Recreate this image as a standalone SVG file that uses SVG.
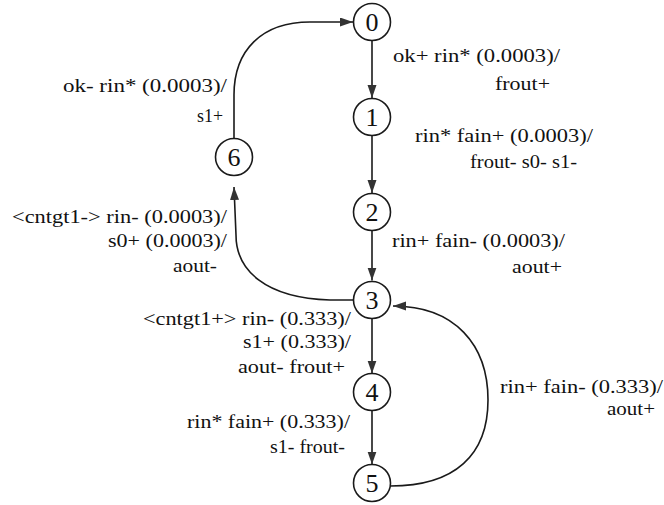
<svg xmlns="http://www.w3.org/2000/svg" width="664" height="505" viewBox="0 0 664 505">
<defs>
<style>
.node circle{fill:#fff;stroke:#1a1a1a;stroke-width:1.6}
.node text{font-family:"Liberation Serif","Times New Roman",serif;font-size:26px;fill:#111;text-anchor:middle}
.edge{fill:none;stroke:#1a1a1a;stroke-width:1.6}
.lbl{font-family:"Liberation Serif","Times New Roman",serif;font-size:18px;fill:#111}
</style>
<marker id="ah" markerUnits="userSpaceOnUse" markerWidth="14" markerHeight="10" refX="13" refY="4.5" orient="auto">
<path d="M0,0 L13,4.5 L0,9 z" fill="#333"/>
</marker>
</defs>
<rect width="664" height="505" fill="#fff"/>
<g id="connectors">
<path class="edge" d="M372 40.5 L372 98" marker-end="url(#ah)"/>
<path class="edge" d="M372 135.5 L372 193" marker-end="url(#ah)"/>
<path class="edge" d="M372 230.5 L372 280.5" marker-end="url(#ah)"/>
<path class="edge" d="M372 318.5 L372 373.5" marker-end="url(#ah)"/>
<path class="edge" d="M372 410.5 L372 464.5" marker-end="url(#ah)"/>
<path class="edge" d="M353.5 300 L330 300 C265 298 236 270 236 235 L234 187" marker-end="url(#ah)"/>
<path class="edge" d="M234 139 L234 95 C234 50 262 22 310 22 L353 22" marker-end="url(#ah)"/>
<path class="edge" d="M390.5 486 C455 486 488 455 488 400 C488 345 455 306 393 306" marker-end="url(#ah)"/>
</g>
<g id="labels">
<text class="lbl" x="393" y="62" textLength="167" lengthAdjust="spacingAndGlyphs">ok+ rin* (0.0003)/</text>
<text class="lbl" x="495" y="90" textLength="55" lengthAdjust="spacingAndGlyphs">frout+</text>
<text class="lbl" x="415" y="142" textLength="178" lengthAdjust="spacingAndGlyphs">rin* fain+ (0.0003)/</text>
<text class="lbl" x="470" y="168" textLength="107" lengthAdjust="spacingAndGlyphs">frout- s0- s1-</text>
<text class="lbl" x="392" y="247" textLength="173" lengthAdjust="spacingAndGlyphs">rin+ fain- (0.0003)/</text>
<text class="lbl" x="512" y="273" textLength="50" lengthAdjust="spacingAndGlyphs">aout+</text>
<text class="lbl" x="63" y="92" textLength="164" lengthAdjust="spacingAndGlyphs">ok- rin* (0.0003)/</text>
<text class="lbl" x="197" y="122" textLength="26" lengthAdjust="spacingAndGlyphs">s1+</text>
<text class="lbl" x="12" y="223" textLength="215" lengthAdjust="spacingAndGlyphs">&lt;cntgt1-&gt; rin- (0.0003)/</text>
<text class="lbl" x="108" y="247" textLength="119" lengthAdjust="spacingAndGlyphs">s0+ (0.0003)/</text>
<text class="lbl" x="173" y="272" textLength="44" lengthAdjust="spacingAndGlyphs">aout-</text>
<text class="lbl" x="143" y="325" textLength="208" lengthAdjust="spacingAndGlyphs">&lt;cntgt1+&gt; rin- (0.333)/</text>
<text class="lbl" x="243" y="348" textLength="108" lengthAdjust="spacingAndGlyphs">s1+ (0.333)/</text>
<text class="lbl" x="238" y="373" textLength="107" lengthAdjust="spacingAndGlyphs">aout- frout+</text>
<text class="lbl" x="187" y="428" textLength="163" lengthAdjust="spacingAndGlyphs">rin* fain+ (0.333)/</text>
<text class="lbl" x="270" y="453" textLength="75" lengthAdjust="spacingAndGlyphs">s1- frout-</text>
<text class="lbl" x="500" y="393" textLength="163" lengthAdjust="spacingAndGlyphs">rin+ fain- (0.333)/</text>
<text class="lbl" x="607" y="415" textLength="48" lengthAdjust="spacingAndGlyphs">aout+</text>
</g>
<g id="node0" class="node"><circle cx="372" cy="22" r="18.5"/><text x="372" y="31">0</text></g>
<g id="node1" class="node"><circle cx="372" cy="117" r="18.5"/><text x="372" y="126">1</text></g>
<g id="node2" class="node"><circle cx="372" cy="212" r="18.5"/><text x="372" y="221">2</text></g>
<g id="node3" class="node"><circle cx="372" cy="300" r="18.5"/><text x="372" y="309">3</text></g>
<g id="node4" class="node"><circle cx="372" cy="392" r="18.5"/><text x="372" y="401">4</text></g>
<g id="node5" class="node"><circle cx="372" cy="483" r="18.5"/><text x="372" y="492">5</text></g>
<g id="node6" class="node"><circle cx="234" cy="157" r="18.5"/><text x="234" y="166">6</text></g>
</svg>
